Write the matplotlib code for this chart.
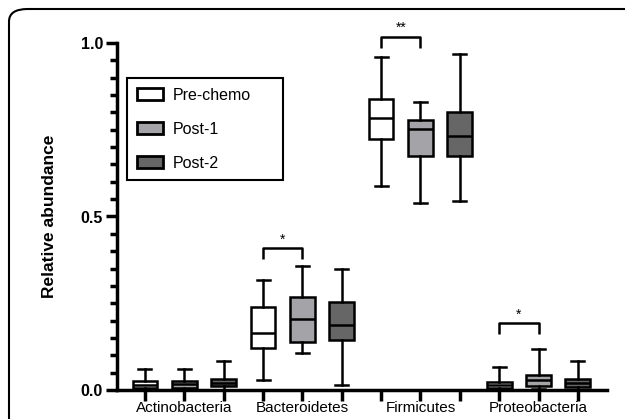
import matplotlib
matplotlib.use("Agg")
import matplotlib.pyplot as plt
from matplotlib.patches import Patch, FancyBboxPatch
from matplotlib.ticker import MultipleLocator

plt.rcParams['font.family'] = ['Liberation Sans', 'DejaVu Sans']

categories = ['Actinobacteria', 'Bacteroidetes', 'Firmicutes', 'Proteobacteria']
groups = ['Pre-chemo', 'Post-1', 'Post-2']

# box statistics: whisker low, Q1, median, Q3, whisker high
pre_whislo = [0.000, 0.028, 0.588, 0.000]
pre_q1 = [0.006, 0.120, 0.723, 0.006]
pre_med = [0.015, 0.163, 0.785, 0.014]
pre_q3 = [0.025, 0.238, 0.838, 0.023]
pre_whishi = [0.060, 0.316, 0.961, 0.065]

post1_whislo = [0.000, 0.106, 0.538, 0.003]
post1_q1 = [0.007, 0.138, 0.675, 0.011]
post1_med = [0.016, 0.205, 0.752, 0.029]
post1_q3 = [0.026, 0.268, 0.778, 0.043]
post1_whishi = [0.060, 0.356, 0.830, 0.118]

post2_whislo = [0.000, 0.014, 0.545, 0.000]
post2_q1 = [0.011, 0.143, 0.674, 0.008]
post2_med = [0.021, 0.186, 0.733, 0.021]
post2_q3 = [0.032, 0.253, 0.802, 0.032]
post2_whishi = [0.084, 0.348, 0.967, 0.084]

# significance annotations
sig_categories = ['Bacteroidetes', 'Firmicutes', 'Proteobacteria']
sig_labels = ['*', '**', '*']
sig_heights = [0.408, 1.017, 0.192]

group_colors = ['#ffffff', '#a3a3a8', '#666666']

fig = plt.figure(figsize=(6.25, 4.19), dpi=100)
ax = fig.add_axes([117/625, 1-390/419, 490/625, 347/419])

series = [
    (pre_whislo, pre_q1, pre_med, pre_q3, pre_whishi),
    (post1_whislo, post1_q1, post1_med, post1_q3, post1_whishi),
    (post2_whislo, post2_q1, post2_med, post2_q3, post2_whishi),
]

for g, (wl, q1, md, q3, wh) in enumerate(series):
    stats = []
    positions = []
    for c in range(len(categories)):
        stats.append(dict(whislo=wl[c], q1=q1[c], med=md[c], q3=q3[c], whishi=wh[c], fliers=[]))
        positions.append(c * 3 + g + 1)
    ax.bxp(stats, positions=positions, widths=0.63, patch_artist=True, showfliers=False,
           boxprops=dict(facecolor=group_colors[g], edgecolor='black', linewidth=1.8),
           medianprops=dict(color='black', linewidth=1.8),
           whiskerprops=dict(color='black', linewidth=1.8),
           capprops=dict(color='black', linewidth=1.8),
           capwidths=0.33, manage_ticks=False)

ax.set_xlim(0.29, 12.74)
ax.set_ylim(0, 1.0)

ax.spines['top'].set_visible(False)
ax.spines['right'].set_visible(False)
ax.spines['left'].set_linewidth(2.5)
ax.spines['bottom'].set_linewidth(2.5)

ax.set_xticks(range(1, 13))
labels = []
for i in range(12):
    labels.append(categories[i // 3] if i % 3 == 1 else '')
ax.set_xticklabels(labels, fontsize=11)
ax.tick_params(axis='x', length=8, width=2.5, pad=0)

ax.yaxis.set_minor_locator(MultipleLocator(0.05))
ax.set_yticks([0, 0.5, 1.0])
ax.set_yticklabels(['0.0', '0.5', '1.0'], fontsize=11.5, fontweight='bold')
ax.tick_params(axis='y', which='major', length=8, width=2.5, pad=2)
ax.tick_params(axis='y', which='minor', length=5, width=2.5)
ax.set_ylabel('Relative abundance', fontsize=12.5, fontweight='bold', labelpad=17)

# significance brackets
for cat, lab, h in zip(sig_categories, sig_labels, sig_heights):
    c = categories.index(cat)
    x1, x2 = c * 3 + 1, c * 3 + 2
    legh = 0.031
    ax.plot([x1, x1, x2, x2], [h - legh, h, h, h - legh], color='black', lw=1.8,
            clip_on=False, solid_capstyle='butt')
    ax.text((x1 + x2) / 2, h + 0.006, lab, ha='center', va='bottom', fontsize=10)

handles = [Patch(facecolor=col, edgecolor='black', linewidth=2) for col in group_colors]
lx0 = (127 - 117) / 490
ly1 = (390 - 78) / 347
ly0 = (390 - 179) / 347
leg = ax.legend(handles, groups, loc='upper left',
                bbox_to_anchor=(lx0, ly0, 156 / 490, ly1 - ly0), mode='expand',
                borderaxespad=0, fancybox=False, edgecolor='black', fontsize=11.5,
                handlelength=1.65, handleheight=0.8, labelspacing=1.2,
                borderpad=0.6, handletextpad=0.6)
leg.get_frame().set_linewidth(1.5)
leg.get_frame().set_alpha(1)

# figure frame with rounded corner
frame = FancyBboxPatch((9/625, -0.05), 1.2, (1-9/419) + 0.05,
                       boxstyle='round,pad=0,rounding_size=0.03',
                       transform=fig.transFigure, facecolor='none',
                       edgecolor='black', linewidth=1.5, clip_on=False)
fig.patches.append(frame)

fig.savefig('out.png', dpi=100)
